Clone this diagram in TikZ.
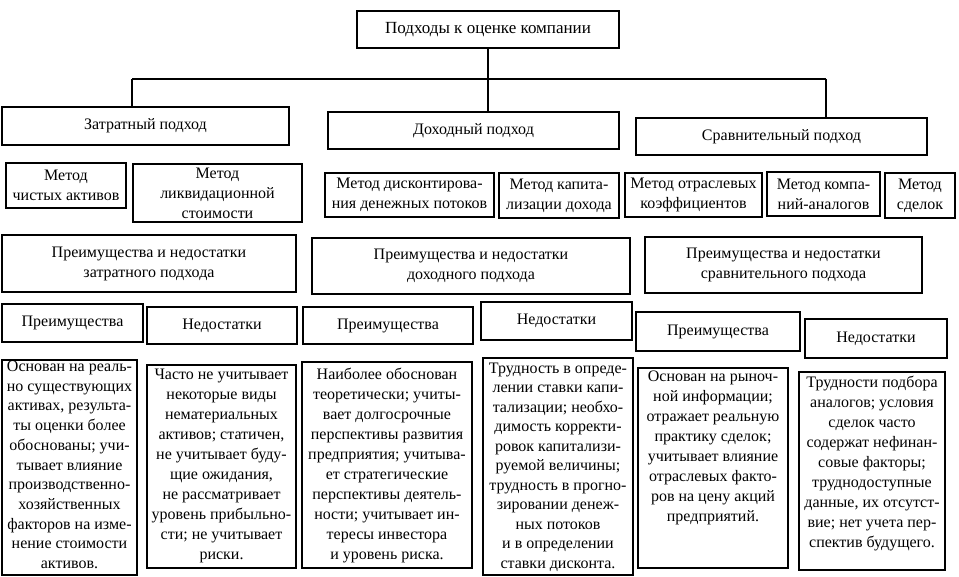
\documentclass[tikz,border=0pt]{standalone}
\usepackage{fontspec}
\setmainfont{Liberation Serif}
\tikzset{
  box/.style={draw, line width=1.3pt, inner sep=0pt, align=center,
    font=\fontsize{16}{20}\selectfont},
  conn/.style={line width=1.3pt}
}
% \bx{name}{x1}{y1}{x2}{y2}{text} : centred text
\newcommand\bx[6]{\node[box, minimum width={#4pt-#2pt}, minimum height={#5pt-#3pt}]
  (#1) at ({(#2+#4)/2},{(#3+#5)/2}) {#6};}
% \tbx{name}{x1}{y1}{x2}{y2}{top gap}{text} : top-aligned text
\newcommand\tbx[7]{\node[box]
  (#1) at ({(#2+#4)/2},{(#3+#5)/2})
  {\parbox[c][\dimexpr#5pt-#3pt\relax][t]{\dimexpr#4pt-#2pt\relax}{\centering\fontsize{16}{20}\selectfont\vspace*{#6pt}#7\par}};}
\begin{document}
\begin{tikzpicture}[x=1pt,y=-1pt]
\useasboundingbox (0,0) rectangle (959,577);
\fill[white] (0,0) rectangle (959,577);
\bx{top}{357}{11}{619}{48}{\fontsize{17}{20}\selectfont Подходы к оценке компании}
\bx{Z}{2}{107}{289}{145}{Затратный подход}
\bx{D}{328}{112}{619}{149}{Доходный подход}
\bx{S}{636}{118}{927}{155}{Сравнительный подход}
\coordinate (j) at (488,79);
\coordinate (jl) at (132,79);
\coordinate (jr) at (826,79);
\draw[conn] (top.south -| j) -- (j);
\draw[conn] (jl) -- (jr);
\draw[conn] (jl) -- (jl |- Z.north);
\draw[conn] (j) -- (j |- D.north);
\draw[conn] (jr) -- (jr |- S.north);
\bx{m1}{6}{163}{126}{208}{Метод\\чистых активов}
\bx{m2}{133}{164}{302}{222}{Метод\\ликвидационной\\стоимости}
\bx{m3}{325}{173}{494}{217}{Метод дисконтирова-\\ния денежных потоков}
\bx{m4}{499}{173}{619}{218}{Метод капита-\\лизации дохода}
\bx{m5}{625}{173}{762}{217}{Метод отраслевых\\коэффициентов}
\bx{m6}{767}{172}{880}{216}{Метод компа-\\ний-аналогов}
\bx{m7}{885}{173}{955}{218}{Метод\\сделок}
\bx{pz}{2}{235}{296}{292}{Преимущества и недостатки\\затратного подхода}
\bx{pd}{312}{238}{630}{294}{Преимущества и недостатки\\доходного подхода}
\bx{ps}{645}{237}{922}{293}{Преимущества и недостатки\\сравнительного подхода}
\bx{a1}{2}{304}{143}{342}{Преимущества}
\bx{b1}{147}{307}{297}{344}{Недостатки}
\bx{a2}{303}{307}{473}{344}{Преимущества}
\bx{b2}{481}{302}{632}{340}{Недостатки}
\bx{a3}{636}{312}{800}{351}{Преимущества}
\bx{b3}{805}{319}{947}{358}{Недостатки}
\tbx{t1}{2}{360}{137}{575}{1}{\fontsize{16}{19.7}\selectfont Основан на реаль-\\но существующих\\активах, результа-\\ты оценки более\\обоснованы; учи-\\тывает влияние\\производственно-\\хозяйственных\\факторов на изме-\\нение стоимости\\активов.}
\tbx{t2}{147}{365}{296}{568}{4}{Часто не учитывает\\некоторые виды\\нематериальных\\активов; статичен,\\не учитывает буду-\\щие ожидания,\\не рассматривает\\уровень прибыльно-\\сти; не учитывает\\риски.}
\tbx{t3}{302}{362}{472}{568}{6}{Наиболее обоснован\\теоретически; учиты-\\вает долгосрочные\\перспективы развития\\предприятия; учитыва-\\ет стратегические\\перспективы деятель-\\ности; учитывает ин-\\тересы инвестора\\и уровень риска.}
\tbx{t4}{483}{358}{633}{575}{5}{\fontsize{16}{19.5}\selectfont Трудность в опреде-\\лении ставки капи-\\тализации; необхо-\\димость корректи-\\ровок капитализи-\\руемой величины;\\трудность в прогно-\\зировании денеж-\\ных потоков\\и в определении\\ставки дисконта.}
\tbx{t5}{638}{368}{788}{568}{3}{Основан на рыноч-\\ной информации;\\отражает реальную\\практику сделок;\\учитывает влияние\\отраслевых факто-\\ров на цену акций\\предприятий.}
\tbx{t6}{799}{372}{945}{570}{4}{Трудности подбора\\аналогов; условия\\сделок часто\\содержат нефинан-\\совые факторы;\\труднодоступные\\данные, их отсутст-\\вие; нет учета пер-\\спектив будущего.}
\end{tikzpicture}
\end{document}
